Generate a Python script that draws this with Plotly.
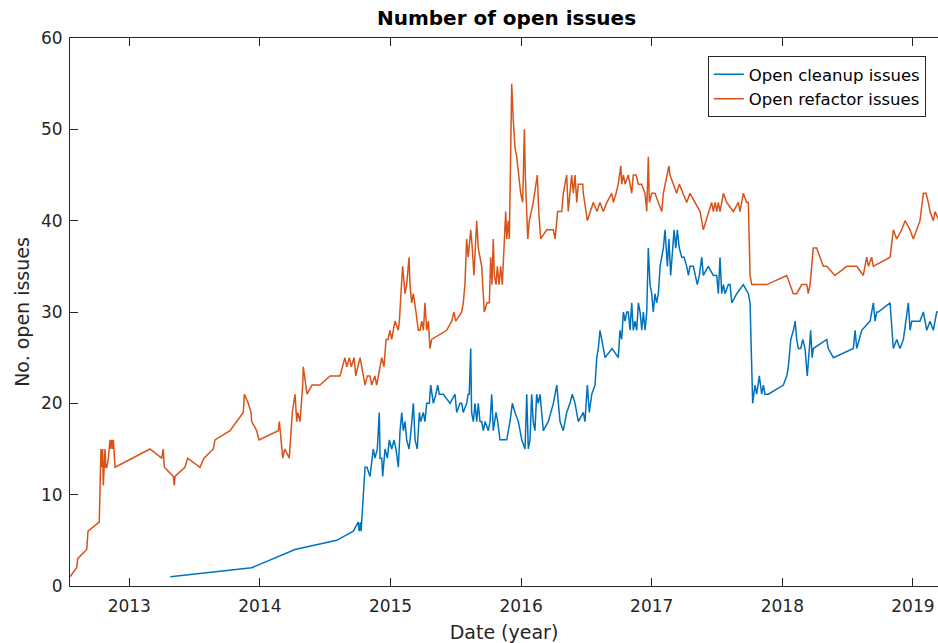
import plotly.graph_objects as go

# Decimal-year timestamps and open-issue counts for each issue label
refactor_year = [
    2012.546, 2012.597, 2012.605, 2012.674, 2012.684, 2012.770, 2012.783, 2012.788, 2012.796, 2012.801,
    2012.814, 2012.820, 2012.827, 2012.840, 2012.852, 2012.858, 2012.865, 2012.873, 2012.878, 2012.891,
    2013.158, 2013.248, 2013.260, 2013.268, 2013.337, 2013.345, 2013.350, 2013.426, 2013.447, 2013.541,
    2013.572, 2013.643, 2013.656, 2013.771, 2013.873, 2013.881, 2013.911, 2013.932, 2013.937, 2013.976,
    2013.993, 2014.141, 2014.149, 2014.167, 2014.175, 2014.190, 2014.225, 2014.248, 2014.269, 2014.282,
    2014.290, 2014.307, 2014.328, 2014.332, 2014.361, 2014.399, 2014.460, 2014.537, 2014.613, 2014.651,
    2014.665, 2014.685, 2014.700, 2014.721, 2014.734, 2014.767, 2014.780, 2014.805, 2014.823, 2014.843,
    2014.856, 2014.880, 2014.894, 2014.920, 2014.933, 2014.950, 2014.966, 2014.981, 2014.996, 2015.009,
    2015.034, 2015.060, 2015.068, 2015.080, 2015.093, 2015.111, 2015.124, 2015.142, 2015.149, 2015.162,
    2015.175, 2015.195, 2015.213, 2015.226, 2015.239, 2015.252, 2015.264, 2015.277, 2015.290, 2015.302,
    2015.315, 2015.430, 2015.469, 2015.486, 2015.499, 2015.545, 2015.557, 2015.570, 2015.583, 2015.595,
    2015.614, 2015.626, 2015.639, 2015.660, 2015.672, 2015.698, 2015.711, 2015.718, 2015.739, 2015.757,
    2015.767, 2015.777, 2015.787, 2015.795, 2015.808, 2015.818, 2015.831, 2015.844, 2015.856, 2015.869,
    2015.882, 2015.890, 2015.902, 2015.910, 2015.920, 2015.928, 2015.940, 2015.953, 2015.966, 2015.997,
    2016.012, 2016.025, 2016.032, 2016.051, 2016.063, 2016.093, 2016.124, 2016.135, 2016.150, 2016.196,
    2016.247, 2016.260, 2016.280, 2016.311, 2016.323, 2016.349, 2016.361, 2016.387, 2016.400, 2016.413,
    2016.426, 2016.438, 2016.472, 2016.476, 2016.507, 2016.528, 2016.553, 2016.581, 2016.604, 2016.629,
    2016.657, 2016.694, 2016.706, 2016.727, 2016.744, 2016.763, 2016.770, 2016.783, 2016.796, 2016.821,
    2016.847, 2016.859, 2016.880, 2016.898, 2016.922, 2016.949, 2016.962, 2016.974, 2016.982, 2017.000,
    2017.025, 2017.051, 2017.077, 2017.089, 2017.115, 2017.132, 2017.140, 2017.165, 2017.191, 2017.211,
    2017.242, 2017.268, 2017.293, 2017.332, 2017.370, 2017.395, 2017.416, 2017.433, 2017.459, 2017.472,
    2017.485, 2017.498, 2017.510, 2017.523, 2017.549, 2017.574, 2017.625, 2017.663, 2017.676, 2017.701,
    2017.727, 2017.740, 2017.753, 2017.766, 2017.881, 2018.034, 2018.059, 2018.084, 2018.110, 2018.149,
    2018.174, 2018.187, 2018.199, 2018.212, 2018.225, 2018.237, 2018.263, 2018.289, 2018.314, 2018.340,
    2018.403, 2018.493, 2018.570, 2018.620, 2018.646, 2018.659, 2018.684, 2018.697, 2018.825, 2018.850,
    2018.876, 2018.914, 2018.940, 2018.978, 2019.003, 2019.029, 2019.054, 2019.080, 2019.100, 2019.118,
    2019.131, 2019.156, 2019.169, 2019.200,
]
refactor_open = [
    1, 2, 3, 4, 6, 7, 15, 13, 15, 11,
    15, 13, 13, 14, 16, 15, 16, 15, 16, 13,
    15, 14, 15, 13, 12, 11, 12, 13, 14, 13,
    14, 15, 16, 17, 19, 21, 20, 19, 18, 17,
    16, 17, 18, 15, 14, 15, 14, 19, 21, 18,
    19, 18, 22, 24, 21, 22, 22, 23, 23, 25,
    24, 25, 24, 25, 23, 25, 24, 22, 23, 23,
    22, 23, 22, 24, 25, 24, 27, 27, 28, 27,
    29, 28, 29, 32, 35, 32, 33, 36, 33, 31,
    32, 30, 28, 28, 29, 28, 31, 28, 29, 26,
    27, 28, 29, 30, 29, 30, 31, 33, 38, 36,
    39, 37, 34, 40, 37, 35, 32, 30, 31, 31,
    36, 33, 38, 34, 33, 35, 33, 35, 33, 37,
    41, 38, 40, 38, 50, 55, 51, 48, 47, 43,
    42, 50, 45, 38, 40, 42, 45, 41, 38, 39,
    39, 38, 41, 41, 43, 45, 41, 45, 43, 45,
    42, 44, 44, 43, 40, 41, 42, 41, 42, 41,
    42, 43, 42, 43, 44, 46, 44, 45, 44, 45,
    43, 45, 45, 44, 44, 43, 41, 47, 42, 43,
    43, 42, 41, 43, 45, 46, 45, 44, 43, 44,
    43, 42, 43, 42, 41, 39, 40, 41, 42, 41,
    42, 41, 42, 41, 43, 42, 41, 42, 41, 43,
    42, 42, 34, 33, 33, 34, 33, 32, 32, 33,
    33, 33, 32, 33, 35, 37, 37, 36, 35, 35,
    34, 35, 35, 34, 36, 35, 36, 35, 36, 39,
    38, 39, 40, 39, 38, 39, 40, 43, 43, 42,
    41, 40, 41, 40,
]

cleanup_year = [
    2013.314, 2013.937, 2014.269, 2014.588, 2014.715, 2014.753, 2014.760, 2014.770, 2014.775, 2014.805,
    2014.820, 2014.843, 2014.868, 2014.881, 2014.899, 2014.914, 2014.920, 2014.933, 2014.940, 2014.958,
    2014.976, 2014.991, 2015.009, 2015.027, 2015.042, 2015.060, 2015.073, 2015.086, 2015.098, 2015.111,
    2015.124, 2015.142, 2015.157, 2015.175, 2015.188, 2015.205, 2015.221, 2015.231, 2015.251, 2015.264,
    2015.277, 2015.297, 2015.308, 2015.328, 2015.348, 2015.361, 2015.374, 2015.404, 2015.456, 2015.494,
    2015.507, 2015.532, 2015.545, 2015.557, 2015.583, 2015.595, 2015.603, 2015.614, 2015.621, 2015.634,
    2015.647, 2015.660, 2015.672, 2015.685, 2015.698, 2015.711, 2015.724, 2015.749, 2015.762, 2015.775,
    2015.787, 2015.808, 2015.821, 2015.838, 2015.864, 2015.890, 2015.915, 2015.933, 2015.953, 2015.979,
    2016.005, 2016.030, 2016.043, 2016.055, 2016.068, 2016.081, 2016.093, 2016.106, 2016.119, 2016.132,
    2016.145, 2016.170, 2016.208, 2016.247, 2016.273, 2016.285, 2016.298, 2016.323, 2016.349, 2016.374,
    2016.392, 2016.413, 2016.438, 2016.476, 2016.489, 2016.507, 2016.522, 2016.541, 2016.566, 2016.579,
    2016.591, 2016.604, 2016.617, 2016.643, 2016.696, 2016.744, 2016.757, 2016.770, 2016.783, 2016.796,
    2016.809, 2016.821, 2016.834, 2016.847, 2016.859, 2016.872, 2016.885, 2016.898, 2016.911, 2016.924,
    2016.936, 2016.949, 2016.962, 2016.974, 2016.987, 2017.000, 2017.012, 2017.025, 2017.038, 2017.051,
    2017.064, 2017.077, 2017.089, 2017.102, 2017.110, 2017.120, 2017.132, 2017.145, 2017.161, 2017.171,
    2017.184, 2017.196, 2017.211, 2017.230, 2017.248, 2017.268, 2017.281, 2017.293, 2017.319, 2017.332,
    2017.349, 2017.365, 2017.383, 2017.395, 2017.433, 2017.472, 2017.498, 2017.510, 2017.523, 2017.536,
    2017.549, 2017.561, 2017.587, 2017.600, 2017.613, 2017.651, 2017.701, 2017.740, 2017.753, 2017.773,
    2017.791, 2017.804, 2017.824, 2017.842, 2017.855, 2017.867, 2017.893, 2018.008, 2018.034, 2018.046,
    2018.065, 2018.085, 2018.098, 2018.110, 2018.123, 2018.141, 2018.157, 2018.174, 2018.191, 2018.207,
    2018.217, 2018.228, 2018.237, 2018.340, 2018.352, 2018.391, 2018.544, 2018.557, 2018.570, 2018.608,
    2018.672, 2018.697, 2018.710, 2018.723, 2018.735, 2018.825, 2018.850, 2018.876, 2018.901, 2018.927,
    2018.953, 2018.965, 2018.978, 2018.991, 2019.003, 2019.029, 2019.054, 2019.080, 2019.106, 2019.131,
    2019.156, 2019.182, 2019.200,
]
cleanup_open = [
    1, 2, 4, 5, 6, 7, 6, 7, 6, 13,
    13, 12, 15, 14, 15, 19, 14, 14, 12, 15,
    14, 16, 15, 16, 15, 13, 17, 19, 17, 18,
    16, 15, 17, 20, 16, 15, 19, 18, 19, 18,
    20, 20, 22, 20, 21, 22, 21, 21, 20, 21,
    19, 20, 20, 19, 20, 21, 21, 26, 19, 18,
    20, 18, 20, 18, 18, 17, 18, 17, 18, 21,
    17, 19, 18, 16, 16, 16, 18, 20, 19, 18,
    16, 15, 21, 15, 16, 21, 18, 17, 21, 20,
    21, 17, 18, 20, 22, 20, 18, 17, 19, 20,
    21, 20, 18, 19, 18, 22, 19, 21, 22, 25,
    26, 28, 27, 25, 26, 25, 28, 27, 30, 29,
    30, 30, 28, 31, 28, 29, 28, 31, 30, 28,
    30, 28, 30, 37, 33, 32, 30, 32, 31, 32,
    35, 36, 37, 39, 37, 35, 38, 34, 37, 39,
    37, 39, 37, 36, 36, 35, 34, 35, 35, 34,
    33, 34, 36, 34, 35, 34, 34, 32, 36, 32,
    33, 32, 33, 33, 31, 32, 33, 32, 31, 20,
    22, 21, 23, 21, 22, 21, 21, 22, 23, 24,
    27, 28, 29, 27, 26, 26, 27, 26, 23, 26,
    28, 25, 26, 27, 26, 25, 26, 28, 26, 28,
    29, 31, 29, 30, 30, 31, 26, 27, 26, 27,
    30, 31, 28, 29, 29, 29, 29, 30, 28, 29,
    28, 30, 30,
]

year_ticks = [2013, 2014, 2015, 2016, 2017, 2018, 2019]
count_ticks = [0, 10, 20, 30, 40, 50, 60]

AXIS_COLOR = "#262626"
FONT = "DejaVu Sans"

fig = go.Figure()
fig.add_trace(go.Scatter(
    x=cleanup_year, y=cleanup_open, mode="lines",
    name="Open cleanup issues",
    line=dict(color="#0072BD", width=1.5),
))
fig.add_trace(go.Scatter(
    x=refactor_year, y=refactor_open, mode="lines",
    name="Open refactor issues",
    line=dict(color="#D95319", width=1.5),
))

fig.update_layout(
    width=938, height=643,
    margin=dict(l=70, r=0, t=38, b=57),
    paper_bgcolor="white", plot_bgcolor="white",
    font=dict(family=FONT, color=AXIS_COLOR, size=17),
    title=dict(
        text="Number of open issues",
        x=(506.5 / 938), xanchor="center",
        y=1 - 18 / 643, yanchor="middle",
        font=dict(family=FONT, size=20, color="black", weight="bold"),
    ),
    xaxis=dict(
        range=[2012.546, 2019.192],
        tickvals=year_ticks,
        ticktext=[str(t) for t in year_ticks],
        ticks="inside", ticklen=8, tickwidth=1, tickcolor=AXIS_COLOR,
        ticklabelstandoff=5,
        showline=True, linecolor=AXIS_COLOR, linewidth=1,
        mirror="ticks",
        showgrid=False, zeroline=False,
        tickfont=dict(size=17, color=AXIS_COLOR),
        title=dict(text="Date (year)", font=dict(size=19, color=AXIS_COLOR), standoff=14),
    ),
    yaxis=dict(
        range=[0, 60],
        tickvals=count_ticks,
        ticks="inside", ticklen=8, tickwidth=1, tickcolor=AXIS_COLOR,
        ticklabelstandoff=3,
        showline=True, linecolor=AXIS_COLOR, linewidth=1,
        showgrid=False, zeroline=False,
        tickfont=dict(size=17, color=AXIS_COLOR),
        title=dict(text="No. open issues", font=dict(size=19, color=AXIS_COLOR), standoff=6),
    ),
    yaxis2=dict(
        overlaying="y", side="right", range=[0, 60],
        tickvals=count_ticks, showticklabels=False,
        ticks="inside", ticklen=5, tickwidth=1, tickcolor=AXIS_COLOR,
        showline=False, showgrid=False, zeroline=False,
    ),
    legend=dict(
        x=0.986, y=0.967, xanchor="right", yanchor="top",
        bgcolor="white", bordercolor=AXIS_COLOR, borderwidth=1,
        font=dict(family=FONT, size=16.5, color="black"),
        tracegroupgap=0,
    ),
    showlegend=True,
)

fig.write_html("out.html")
